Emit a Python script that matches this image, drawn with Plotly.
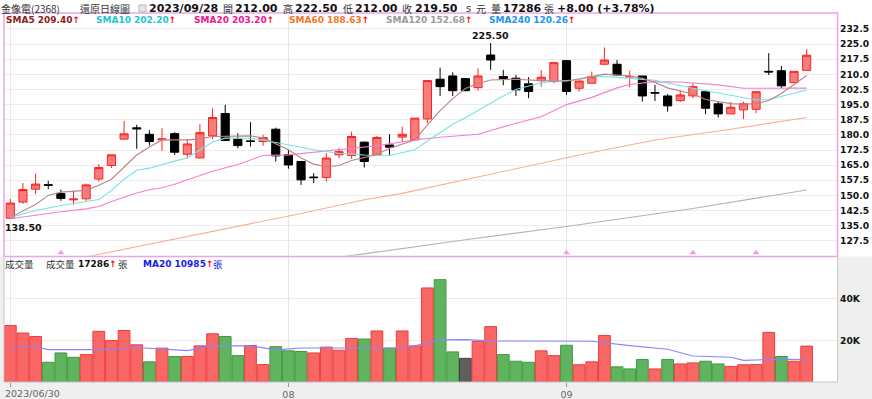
import plotly.graph_objects as go
import pandas as pd

# ---------------- data ----------------
dates = [d.strftime('%Y/%m/%d') for d in pd.bdate_range('2023-06-30', '2023-09-28')
         if d.strftime('%Y-%m-%d') != '2023-08-03']

opens = [138.7, 146.7, 153.1, 155.3, 150.9, 147.8, 148.3, 158.1, 164.8, 177.9,
         183.5, 180.3, 177.6, 180.6, 170.4, 168.6, 179.5, 190.6, 177.9, 177.0,
         176.7, 182.8, 170.1, 166.8, 159.1, 158.9, 170.1, 169.8, 176.4, 170.1,
         175.0, 178.9, 177.5, 187.9, 207.6, 209.2, 207.9, 203.4, 219.6, 208.9,
         208.1, 205.3, 206.9, 206.4, 216.8, 203.1, 205.6, 215.0, 215.0, 208.7,
         209.2, 201.0, 199.3, 197.0, 199.3, 201.4, 195.4, 190.4, 192.4, 192.7,
         211.5, 211.8, 205.9, 212.0]
highs = [148.2, 156.1, 160.8, 157.2, 152.9, 152.3, 155.9, 165.6, 170.1, 186.9,
         185.0, 182.3, 183.3, 181.3, 177.9, 185.3, 193.2, 194.9, 180.8, 186.3,
         180.0, 183.6, 172.6, 167.1, 161.0, 170.9, 173.4, 181.6, 176.7, 179.5,
         180.3, 184.1, 188.3, 206.9, 213.3, 211.0, 208.0, 213.0, 225.5, 212.2,
         209.7, 208.6, 212.2, 215.8, 216.8, 207.6, 211.4, 223.4, 217.1, 211.8,
         209.2, 204.8, 200.3, 202.0, 205.6, 201.4, 196.5, 196.3, 196.5, 201.4,
         220.5, 214.2, 211.5, 222.5]
lows = [138.5, 145.8, 150.6, 153.1, 147.3, 145.3, 147.3, 156.9, 163.5, 177.5,
        173.1, 174.7, 172.1, 170.1, 168.1, 168.1, 177.8, 177.0, 173.4, 174.2,
        174.6, 166.8, 163.2, 155.2, 156.1, 156.9, 168.5, 168.1, 163.8, 169.8,
        170.1, 176.4, 177.5, 185.8, 199.3, 199.3, 201.9, 201.9, 212.2, 204.6,
        199.3, 198.2, 203.9, 205.6, 199.8, 201.5, 205.6, 214.7, 209.2, 203.6,
        196.5, 196.8, 191.5, 196.3, 198.2, 190.3, 188.6, 190.4, 187.8, 190.7,
        209.7, 203.1, 205.9, 212.0]
closes = [146.2, 152.9, 155.6, 155.0, 148.5, 148.2, 155.2, 163.8, 170.1, 180.5,
          183.0, 176.7, 178.0, 171.4, 175.5, 181.1, 188.6, 177.2, 174.7, 176.8,
          178.7, 169.6, 165.1, 157.7, 158.8, 168.5, 171.7, 179.2, 166.8, 178.7,
          173.9, 180.3, 188.3, 206.9, 203.9, 201.9, 201.9, 209.2, 217.1, 207.9,
          202.3, 201.5, 208.6, 215.8, 201.5, 206.7, 208.9, 217.1, 209.7, 209.0,
          199.3, 200.7, 194.4, 199.8, 203.9, 193.2, 190.4, 193.7, 195.4, 201.4,
          211.2, 204.3, 211.5, 219.5]

volumes = [27200, 23600, 21900, 9500, 14000, 11900, 13200, 24400, 20000, 24800,
           17900, 9700, 16300, 12300, 12300, 17400, 23200, 21900, 12700, 17600,
           8400, 17000, 15000, 14700, 14000, 16800, 15300, 21000, 20700, 24600,
           16300, 24600, 17400, 45300, 49300, 14500, 11400, 19600, 26700, 13200,
           10000, 9500, 15000, 12700, 17700, 8300, 9700, 22400, 7300, 6300,
           10800, 6300, 10800, 8700, 9200, 10000, 8700, 7500, 8300, 8400,
           23900, 12300, 10000, 17286]
# R = up vs previous close, G = down, N = unchanged
vol_dir = list("RRRGGGRRRRRGRGRRRGGRRGGGRRRRGRGRRRGGNRRGGGRRGRRRGGGRGRRGGRRRRGRR")

vol_ma20_idx = [0, 1, 2, 3, 7, 10, 14, 16, 19, 21, 23, 31, 32, 34, 36, 38, 46, 49, 52, 54, 57, 58, 60, 62, 63]
vol_ma20_val = [16400, 17200, 17000, 15600, 15600, 16600, 15100, 17400, 17400, 15500, 16400, 16400, 17500,
                20300, 20400, 19800, 19600, 17500, 15800, 12500, 11900, 10400, 10800, 10800, 10985]

sma5_idx = [0, 2, 3, 4, 6, 7, 8, 9, 10, 11, 12, 14, 15, 16, 17, 19, 20, 21, 22, 23, 24, 25, 26, 27, 29, 30, 32,
            33, 34, 35, 36, 37, 38, 40, 42, 44, 46, 47, 49, 50, 51, 52, 54, 55, 57, 58, 59, 60, 61, 62, 63]
sma5_val = [139.1, 145.5, 150.0, 151.6, 152.5, 155.0, 158.0, 164.0, 170.0, 174.0, 177.5, 177.5, 178.0, 179.2,
            179.4, 179.5, 178.5, 175.5, 172.6, 168.5, 165.5, 164.2, 164.8, 167.3, 170.3, 173.4, 177.5,
            185.0, 192.0, 198.0, 203.0, 205.5, 207.2, 207.6, 206.9, 206.6, 208.9, 210.1, 209.2, 208.0,
            206.0, 203.3, 200.3, 197.5, 195.5, 195.2, 195.5, 197.0, 200.5, 204.8, 209.4]

sma10_idx = [0, 2, 4, 6, 7, 8, 9, 10, 11, 13, 14, 15, 16, 17, 19, 20, 21, 22, 24, 26, 28, 30, 31, 32, 33, 34,
             35, 36, 37, 38, 39, 40, 41, 42, 43, 45, 46, 47, 49, 51, 54, 57, 59, 60, 61, 62, 63]
sma10_val = [139.1, 142.5, 145.0, 146.8, 148.0, 152.5, 158.0, 162.5, 163.5, 167.0, 168.5, 172.5, 176.5, 178.4,
             178.3, 177.5, 176.3, 175.2, 172.6, 170.9, 170.0, 169.8, 171.3, 172.6, 177.0, 181.3, 185.3,
             188.5, 192.2, 195.5, 199.3, 202.5, 204.3, 205.8, 206.6, 207.3, 208.9, 209.0, 208.0, 207.0,
             203.1, 199.5, 197.3, 197.5, 199.0, 200.8, 202.2]

sma20_idx = [0, 2, 4, 6, 7, 8, 10, 11, 12, 13, 15, 16, 18, 20, 22, 25, 27, 29, 32, 34, 37, 38, 40, 42, 44, 46,
             48, 49, 51, 53, 56, 58, 60, 63]
sma20_val = [138.4, 140.2, 141.9, 143.3, 144.5, 147.0, 151.2, 152.8, 153.8, 155.5, 159.8, 162.0, 165.3, 169.8,
             170.1, 172.0, 173.5, 174.6, 177.5, 178.8, 180.3, 182.2, 185.8, 189.0, 195.0, 198.6, 203.3,
             205.0, 206.4, 206.2, 204.8, 203.1, 203.1, 203.2]

sma60_idx = [6, 9, 23, 28, 31, 45, 51, 57, 63]
sma60_val = [119.5, 123.3, 141.0, 147.8, 151.0, 170.0, 177.5, 182.8, 188.63]

sma120_idx = [26, 28, 36, 44, 54, 63]
sma120_val = [119.4, 121.0, 128.0, 134.6, 143.5, 152.68]

event_idx = [4, 44, 54, 59]

price_ticks = [127.5, 135.0, 142.5, 150.0, 157.5, 165.0, 172.5, 180.0, 187.5, 195.0,
               202.5, 210.0, 217.5, 225.0, 232.5]
vol_ticks = [20000, 40000]
vol_tick_text = ['20K', '40K']
x_tick_idx = [0, 22, 44]
x_tick_text = ['', '08', '09']

legend_items = [('SMA5', '209.40'), ('SMA10', '202.20'), ('SMA20', '203.20'),
                ('SMA60', '188.63'), ('SMA120', '152.68'), ('SMA240', '120.26')]

# ---------------- figure ----------------
W, H = 872, 399
L, R, T, B = 4, 837, 13, 382
PW, PH = R - L, B - T


def fx(px):
    return (px - L) / PW


def fy(py):
    return (B - py) / PH


FONT = 'DejaVu Sans'
CJK = 'Noto Sans CJK TC'

fig = go.Figure()

fig.add_trace(go.Candlestick(
    x=dates, open=opens, high=highs, low=lows, close=closes,
    increasing=dict(line=dict(color='#ff2222', width=1), fillcolor='#f77c7c'),
    decreasing=dict(line=dict(color='#000000', width=1), fillcolor='#000000'),
    whiskerwidth=0, xaxis='x', yaxis='y', showlegend=False, hoverinfo='skip'))

line_styles = [
    (sma120_idx, sma120_val, '#b4b4b4'),
    (sma60_idx, sma60_val, '#f7b08e'),
    (sma20_idx, sma20_val, '#f47fd0'),
    (sma10_idx, sma10_val, '#79e3e6'),
    (sma5_idx, sma5_val, '#b98585'),
]
for idx, val, col in line_styles:
    fig.add_trace(go.Scatter(x=[dates[i] for i in idx], y=val, mode='lines',
                             line=dict(color=col, width=1.1), xaxis='x', yaxis='y',
                             showlegend=False, hoverinfo='skip'))

fig.add_trace(go.Scatter(x=[dates[i] for i in event_idx], y=[121.6] * len(event_idx),
                         mode='markers', marker=dict(symbol='triangle-up', size=6, color='#f59be0'),
                         xaxis='x', yaxis='y', showlegend=False, hoverinfo='skip'))

fill_map = {'R': '#f86666', 'G': '#60b460', 'N': '#5e5e5e'}
edge_map = {'R': '#ef3c3c', 'G': '#3d9a3d', 'N': '#404040'}
fig.add_trace(go.Bar(x=dates, y=volumes,
                     marker=dict(color=[fill_map[d] for d in vol_dir],
                                 line=dict(color=[edge_map[d] for d in vol_dir], width=1)),
                     xaxis='x2', yaxis='y2', showlegend=False, hoverinfo='skip'))
fig.add_trace(go.Scatter(x=[dates[i] for i in vol_ma20_idx], y=vol_ma20_val, mode='lines',
                         line=dict(color='#8585ff', width=1.1), xaxis='x2', yaxis='y2',
                         showlegend=False, hoverinfo='skip'))

xr = [-0.5, 65.4]
yd_split = fy(256.5)
fig.update_layout(
    width=W, height=H, autosize=False,
    margin=dict(l=L, r=W - R, t=T, b=H - B, pad=0, autoexpand=False),
    paper_bgcolor='#efefef', plot_bgcolor='#ffffff',
    boxgap=0.08, bargap=0.07,
    xaxis=dict(domain=[0, 1], anchor='y', type='category', range=xr, automargin=False,
               rangeslider=dict(visible=False), showticklabels=False,
               tickvals=[dates[i] for i in x_tick_idx], showgrid=True, gridcolor='#e6e6e6',
               ticks='', showline=False, zeroline=False),
    yaxis=dict(domain=[yd_split + 0.002, 1], anchor='x', side='right', automargin=False,
               range=[120.07, 240.42], tickvals=price_ticks,
               ticktext=['%.1f' % v for v in price_ticks],
               tickfont=dict(family=FONT, size=9.2, color='#111', weight='bold'),
               showgrid=True, gridcolor='#ececec', zeroline=False, ticks='',
               ticklabelstandoff=2),
    xaxis2=dict(domain=[0, 1], anchor='y2', type='category', range=xr, matches='x', automargin=False,
                tickvals=[dates[i] for i in x_tick_idx], ticktext=x_tick_text,
                tickfont=dict(family=FONT, size=9.5, color='#666'),
                ticks='outside', ticklen=4, tickcolor='#999',
                showgrid=True, gridcolor='#e6e6e6', zeroline=False, showline=False),
    yaxis2=dict(domain=[0, yd_split - 0.002], anchor='x2', side='right', automargin=False,
                range=[0, 60100], tickvals=vol_ticks, ticktext=vol_tick_text,
                tickfont=dict(family=FONT, size=9.2, color='#111', weight='bold'),
                showgrid=True, gridcolor='#ececec', zeroline=False, ticks='',
                ticklabelstandoff=2),
)

shapes = [
    dict(type='rect', xref='paper', yref='paper', x0=fx(0), x1=fx(W), y0=fy(256.5), y1=fy(0),
         fillcolor='#ffffff', line=dict(width=0), layer='below'),
    dict(type='rect', xref='paper', yref='paper', x0=fx(4), x1=fx(837.5), y0=fy(382), y1=fy(256.5),
         line=dict(color='#c8c8c8', width=1), fillcolor='rgba(0,0,0,0)', layer='above'),
    dict(type='rect', xref='paper', yref='paper', x0=fx(4), x1=fx(837.5), y0=fy(256.5), y1=fy(13),
         line=dict(color='#eba6eb', width=1.5), fillcolor='rgba(0,0,0,0)', layer='above'),
    dict(type='rect', xref='paper', yref='paper', x0=fx(139), x1=fx(146), y0=fy(12), y1=fy(5),
         line=dict(color='#b8b8b8', width=1), fillcolor='#e4e4e4', layer='above'),
]
fig.update_layout(shapes=shapes)

ann = []


def txt(px, py, text, size, color='#222', family=FONT, bold=False, xanchor='left'):
    t = '<b>%s</b>' % text if bold else text
    ann.append(dict(x=fx(px), y=fy(py), xref='paper', yref='paper', text=t, showarrow=False,
                    xanchor=xanchor, yanchor='middle', borderpad=0,
                    font=dict(family=family, size=size, color=color)))


hy = 8.5
txt(0, hy, '金像電(2368)', 10, '#333', CJK)
txt(79, hy, '還原日線圖', 10, '#333', CJK)
txt(148, hy, '2023/09/28', 11, '#111', bold=True)
txt(222, hy, '開', 10, '#333', CJK)
txt(234, hy, '212.00', 11, '#111', bold=True)
txt(282, hy, '高', 10, '#333', CJK)
txt(294, hy, '222.50', 11, '#111', bold=True)
txt(342, hy, '低', 10, '#333', CJK)
txt(354, hy, '212.00', 11, '#111', bold=True)
txt(401, hy, '收', 10, '#333', CJK)
txt(414, hy, '219.50', 11, '#111', bold=True)
txt(465, hy, 's', 10, '#333')
txt(475, hy, '元', 10, '#333', CJK)
txt(490, hy, '量', 10, '#333', CJK)
txt(502, hy, '17286', 11, '#111', bold=True)
txt(543, hy, '張', 10, '#333', CJK)
txt(556, hy, '+8.00 (+3.78%)', 11, '#111', bold=True)

leg_colors = ['#8e1c1c', '#1fc6d2', '#f0168c', '#f57628', '#9a9a9a', '#2196e8']
leg_x = [5, 95, 193, 288, 385, 488]
for (name, val), col, lx in zip(legend_items, leg_colors, leg_x):
    txt(lx, 19.5, '<b>%s %s</b><span style="color:#ee1111"><b>↑</b></span>' % (name, val), 9, col)

vy = 263.5
txt(4, vy, '成交量', 9.5, '#333', CJK)
txt(45, vy, '成交量', 9.5, '#333', CJK)
txt(77, vy, '<b>17286</b><span style="color:#ee1111"><b>↑</b></span>', 9, '#111')
txt(117, vy, '張', 9.5, '#333', CJK)
txt(142, vy, '<b>MA20 10985</b><span style="color:#ee1111"><b>↑</b></span>', 9, '#1a1ae6')
txt(212, vy, '張', 9.5, '#1a1ae6', CJK)

txt(4, 393, '2023/06/30', 9.5, '#666')

imax = highs.index(max(highs))
imin = lows.index(min(lows))
ann.append(dict(x=dates[imax], y=highs[imax], xref='x', yref='y', text='<b>%.2f</b>' % highs[imax],
                showarrow=False, yanchor='bottom', yshift=0, xanchor='center',
                font=dict(family=FONT, size=9.5, color='#111')))
ann.append(dict(x=dates[imin], y=lows[imin], xref='x', yref='y', text='<b>%.2f</b>' % lows[imin],
                showarrow=False, yanchor='top', yshift=-1, xanchor='left', xshift=-7,
                font=dict(family=FONT, size=9.5, color='#111')))

fig.update_layout(annotations=ann)

fig.write_html('out.html', config={'displayModeBar': False, 'responsive': False},
               post_script="document.body.style.margin='0';document.body.style.overflow='hidden';"
                           "document.body.style.background='#efefef';")
